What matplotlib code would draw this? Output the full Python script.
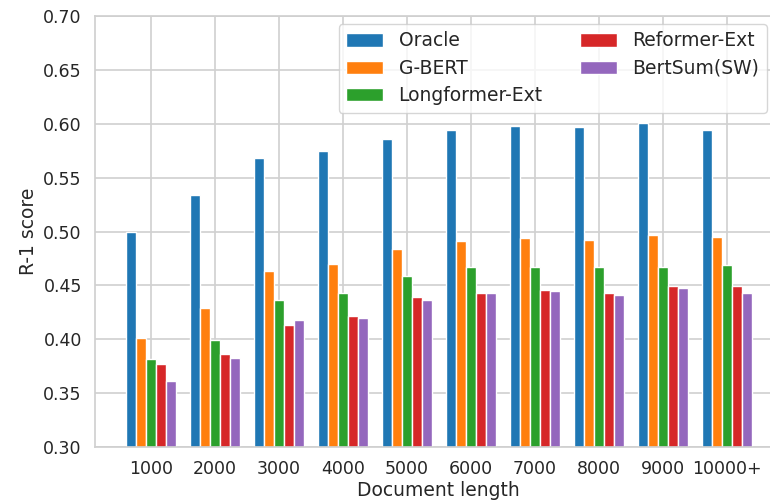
import numpy as np
import matplotlib
matplotlib.use("Agg")
import matplotlib.pyplot as plt
import seaborn as sns

lengths = ["1000", "2000", "3000", "4000", "5000", "6000", "7000", "8000", "9000", "10000+"]
oracle = [0.500, 0.534, 0.568, 0.575, 0.586, 0.594, 0.598, 0.597, 0.601, 0.594]
gbert = [0.401, 0.429, 0.463, 0.470, 0.484, 0.491, 0.494, 0.492, 0.497, 0.495]
longformer = [0.382, 0.399, 0.436, 0.443, 0.459, 0.467, 0.467, 0.467, 0.467, 0.469]
reformer = [0.377, 0.386, 0.413, 0.422, 0.439, 0.443, 0.446, 0.443, 0.449, 0.449]
bertsum = [0.361, 0.383, 0.418, 0.420, 0.436, 0.443, 0.445, 0.441, 0.448, 0.443]

models = ["Oracle", "G-BERT", "Longformer-Ext", "Reformer-Ext", "BertSum(SW)"]
series = [oracle, gbert, longformer, reformer, bertsum]

sns.set_theme(style="whitegrid")
plt.rcParams['font.family'] = ['DejaVu Sans']

fig = plt.figure(figsize=(7.7, 5.04), dpi=100)
ax = fig.add_axes([95 / 770, 57 / 504, (782 - 95) / 770, 431 / 504])

x = np.arange(len(lengths))
width = 0.155
colors = sns.color_palette("tab10", 5)
for i, (name, vals) in enumerate(zip(models, series)):
    ax.bar(x + (i - 2) * width, vals, width, label=name, color=colors[i],
           edgecolor="white", linewidth=1)

ax.set_ylim(0.30, 0.70)
ax.set_xlim(-0.875, 9.86)
ax.set_xticks(x)
ax.set_xticklabels(lengths, fontsize=12.5)
ax.tick_params(axis="y", labelsize=12.5)
ax.set_yticks(np.arange(0.30, 0.701, 0.05))
ax.set_yticklabels([f"{v:.2f}" for v in np.arange(0.30, 0.701, 0.05)])
ax.set_xlabel("Document length", fontsize=13.5, labelpad=2)
ax.set_ylabel("R-1 score", fontsize=13.5)
ax.grid(True, color="#d0d0d0", linewidth=1.2)
for s in ax.spines.values():
    s.set_color("#d0d0d0")

ax.legend(ncol=2, fontsize=13.5, loc="upper right",
          bbox_to_anchor=(767 / 770, 1 - 24 / 504), bbox_transform=fig.transFigure,
          borderaxespad=0, columnspacing=2.0, handlelength=1.95,
          handletextpad=0.85, labelspacing=0.45)

fig.savefig("out.png", dpi=100)
